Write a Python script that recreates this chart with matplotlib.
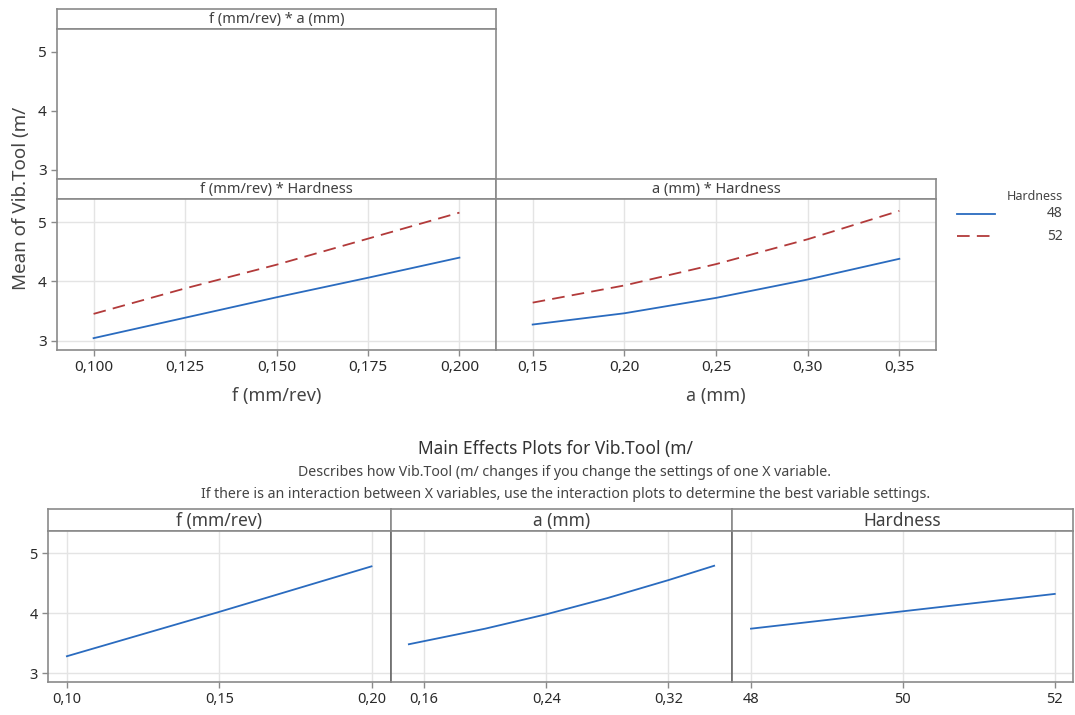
import matplotlib
matplotlib.use("Agg")
import matplotlib.pyplot as plt
from matplotlib.lines import Line2D

plt.rcParams['font.family'] = ['Noto Sans', 'DejaVu Sans']

# interaction plot data (Hardness 48 / 52)
f_levels = [0.100, 0.125, 0.150, 0.175, 0.200]
fh_48 = [3.04, 3.385, 3.73, 4.06, 4.40]
fh_52 = [3.45, 3.88, 4.28, 4.72, 5.16]
a_levels = [0.15, 0.20, 0.25, 0.30, 0.35]
ah_48 = [3.27, 3.46, 3.72, 4.03, 4.38]
ah_52 = [3.64, 3.93, 4.29, 4.71, 5.19]
hardness_levels = ["48", "52"]

# main effects data
me_f_x = [0.10, 0.15, 0.20]
me_f = [3.28, 4.02, 4.78]
me_a_x = [0.15, 0.20, 0.24, 0.28, 0.32, 0.35]
me_a = [3.48, 3.74, 3.98, 4.25, 4.55, 4.79]
me_h_x = [48, 50, 52]
me_h = [3.74, 4.03, 4.32]

y_ticks = [3, 4, 5]
f_ticks = [0.100, 0.125, 0.150, 0.175, 0.200]
f_ticklabels = ["0,100", "0,125", "0,150", "0,175", "0,200"]
a_ticks = [0.15, 0.20, 0.25, 0.30, 0.35]
a_ticklabels = ["0,15", "0,20", "0,25", "0,30", "0,35"]
mf_ticks = [0.10, 0.15, 0.20]
mf_ticklabels = ["0,10", "0,15", "0,20"]
ma_ticks = [0.16, 0.24, 0.32]
ma_ticklabels = ["0,16", "0,24", "0,32"]
mh_ticks = [48, 50, 52]
mh_ticklabels = ["48", "50", "52"]

W, H = 1075, 715
BLUE = "#2a6bbf"
RED = "#b23a3a"
FRAME = "#8a8a8a"
GRID = "#e4e4e4"
TXT = "#2a2a2a"

fig = plt.figure(figsize=(W / 100, H / 100), dpi=100)


def box(x0, y0, x1, y1):
    return [x0 / W, 1 - y1 / H, (x1 - x0) / W, (y1 - y0) / H]


def strip(x0, y0, x1, y1, label, size):
    s = fig.add_axes(box(x0, y0, x1, y1))
    s.set_xticks([])
    s.set_yticks([])
    for sp in s.spines.values():
        sp.set_color(FRAME)
        sp.set_linewidth(1.2)
    s.text(0.5, 0.45, label, ha="center", va="center", fontsize=size, color="#404040",
           transform=s.transAxes)
    return s


def panel(x0, y0, x1, y1, xlim, ylim, grid=True):
    ax = fig.add_axes(box(x0, y0, x1, y1))
    ax.set_xlim(*xlim)
    ax.set_ylim(*ylim)
    for sp in ax.spines.values():
        sp.set_color(FRAME)
        sp.set_linewidth(1.2)
    ax.tick_params(colors=FRAME, labelcolor=TXT, length=4, width=1)
    if grid:
        ax.grid(True, color=GRID, linewidth=1)
        ax.set_axisbelow(True)
    return ax


ylim = (2.84, 5.39)

# ---- interaction plots ----
strip(57, 9, 496, 29, "f (mm/rev) * a (mm)", 10.5)
ax0 = panel(57, 29, 496, 179, (0.09, 0.21), ylim, grid=False)
ax0.set_xticks([])
ax0.set_yticks(y_ticks)
ax0.tick_params(axis="y", labelsize=11)

strip(57, 179, 496, 199, "f (mm/rev) * Hardness", 10.5)
ax1 = panel(57, 199, 496, 350, (0.09, 0.21), ylim)
ax1.plot(f_levels, fh_48, color=BLUE, lw=1.3)
ax1.plot(f_levels, fh_52, color=RED, lw=1.3, dashes=(7, 4))
ax1.set_yticks(y_ticks)
ax1.set_xticks(f_ticks)
ax1.set_xticklabels(f_ticklabels)
ax1.tick_params(labelsize=11)
ax1.set_xlabel("f (mm/rev)", fontsize=13, color="#444444", labelpad=8)

strip(496, 179, 936, 199, "a (mm) * Hardness", 10.5)
ax2 = panel(496, 199, 936, 350, (0.13, 0.37), ylim)
l48, = ax2.plot(a_levels, ah_48, color=BLUE, lw=1.3)
l52, = ax2.plot(a_levels, ah_52, color=RED, lw=1.3, dashes=(7, 4))
ax2.set_yticks(y_ticks)
ax2.set_yticklabels([])
ax2.tick_params(axis="y", length=0)
ax2.set_xticks(a_ticks)
ax2.set_xticklabels(a_ticklabels)
ax2.tick_params(axis="x", labelsize=11)
ax2.set_xlabel("a (mm)", fontsize=13, color="#444444", labelpad=8)

fig.text(21 / W, 1 - 198 / H, "Mean of Vib.Tool (m/", rotation=90, ha="center", va="center",
         fontsize=13.5, color="#444444")

# legend drawn by hand so the labels sit right-aligned like the original
fig.text(1063 / W, 1 - 197 / H, "Hardness", ha="right", va="center", fontsize=9, color="#444444")
for i, (src, lab) in enumerate(zip([l48, l52], hardness_levels)):
    yy = 1 - (214 + 22 * i) / H
    h = Line2D([957 / W, 995 / W], [yy, yy], transform=fig.transFigure,
               color=src.get_color(), lw=src.get_linewidth(), linestyle=src.get_linestyle())
    if i == 1:
        h.set_dashes((7, 4))
    fig.add_artist(h)
    fig.text(1063 / W, yy, lab, ha="right", va="center", fontsize=10, color="#444444")

# ---- main effects ----
fig.text(555 / W, 1 - 449 / H, "Main Effects Plots for Vib.Tool (m/", ha="center", va="center",
         fontsize=12.5, color="#333333")
fig.text(565 / W, 1 - 472 / H, "Describes how Vib.Tool (m/ changes if you change the settings of one X variable.",
         ha="center", va="center", fontsize=10.2, color="#444444")
fig.text(566 / W, 1 - 494 / H,
         "If there is an interaction between X variables, use the interaction plots to determine the best variable settings.",
         ha="center", va="center", fontsize=10.2, color="#444444")

ylim2 = (2.85, 5.37)
strip(48, 509, 391, 531, "f (mm/rev)", 12.5)
b1 = panel(48, 531, 391, 682, (0.0938, 0.2064), ylim2)
b1.plot(me_f_x, me_f, color=BLUE, lw=1.3)
b1.set_yticks(y_ticks)
b1.set_xticks(mf_ticks)
b1.set_xticklabels(mf_ticklabels)
b1.tick_params(labelsize=10.5)

strip(391, 509, 732, 531, "a (mm)", 12.5)
b2 = panel(391, 531, 732, 682, (0.1383, 0.3617), ylim2)
b2.plot(me_a_x, me_a, color=BLUE, lw=1.3)
b2.set_yticks(y_ticks)
b2.set_yticklabels([])
b2.tick_params(axis="y", length=0)
b2.set_xticks(ma_ticks)
b2.set_xticklabels(ma_ticklabels)
b2.tick_params(axis="x", labelsize=10.5)

strip(732, 509, 1073, 531, "Hardness", 12.5)
b3 = panel(732, 531, 1073, 682, (47.75, 52.24), ylim2)
b3.plot(me_h_x, me_h, color=BLUE, lw=1.3)
b3.set_yticks(y_ticks)
b3.set_yticklabels([])
b3.tick_params(axis="y", length=0)
b3.set_xticks(mh_ticks)
b3.set_xticklabels(mh_ticklabels)
b3.tick_params(axis="x", labelsize=10.5)

for b in (b2, b3):
    b.spines["left"].set_color("#6a6a6a")

fig.savefig("out.png", dpi=100)
